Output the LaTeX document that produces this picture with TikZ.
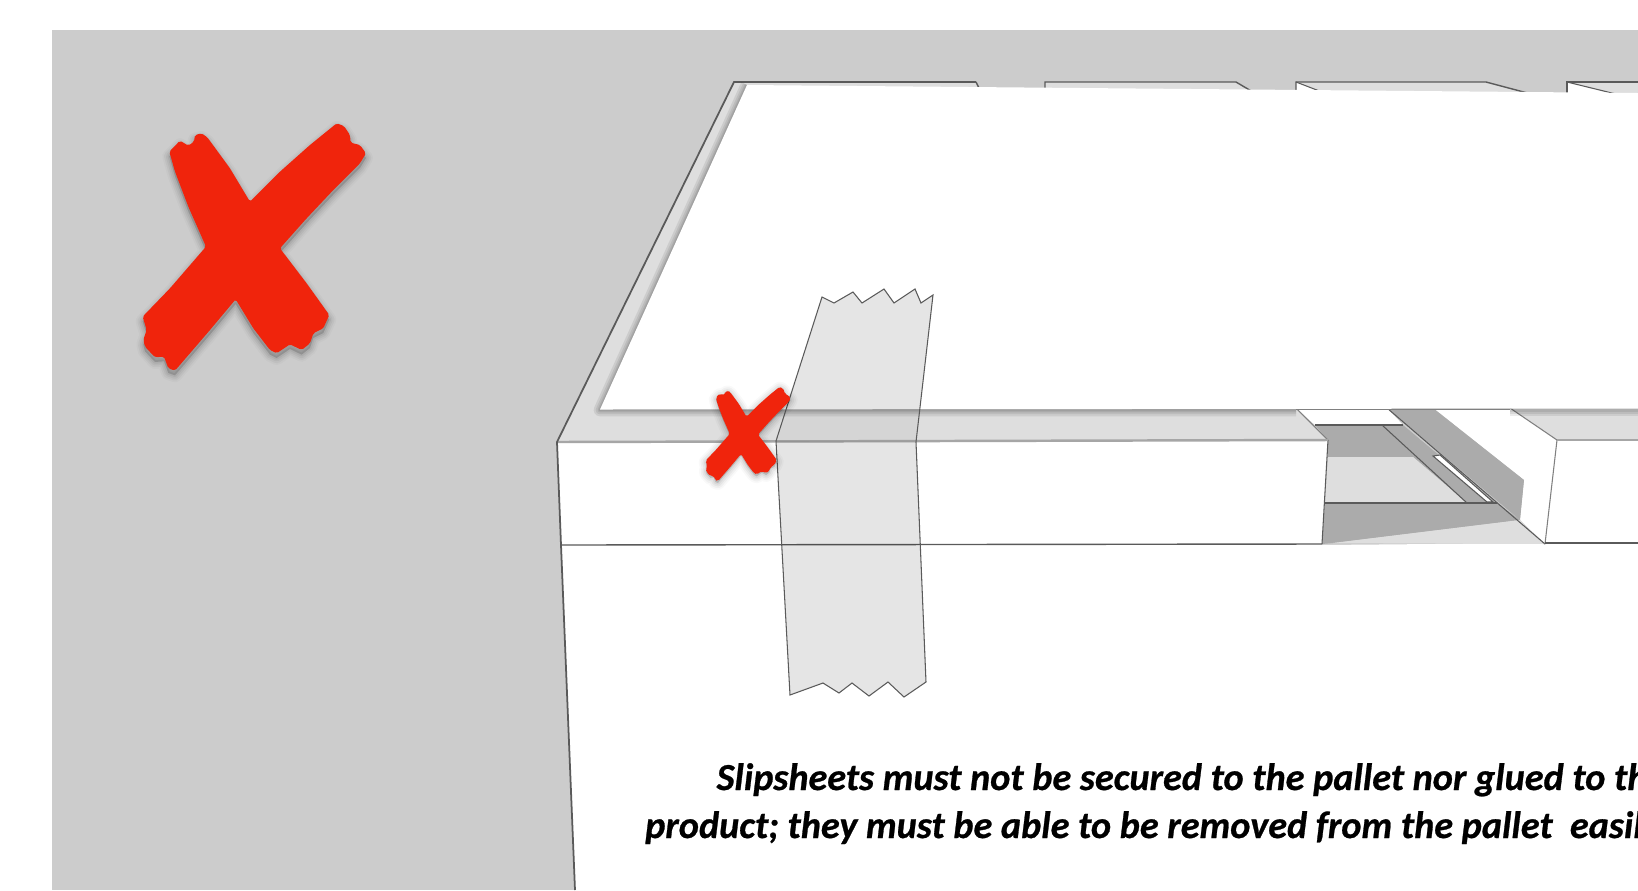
\documentclass[tikz,border=0pt]{standalone}
\usepackage{fontspec}
\setmainfont{Carlito}[BoldItalicFeatures={FakeBold=0.7}]
\definecolor{floorgray}{HTML}{CCCCCC}
\definecolor{facegray}{HTML}{DEDEDE}
\definecolor{gapgray}{HTML}{ABABAB}
\definecolor{edgegray}{HTML}{5A5A5A}
\definecolor{crossred}{HTML}{F0240C}
\newcommand{\crossoutline}{(148,155) -- (180,122) -- (205,137) -- (222,125) -- (225,105) -- (245,100) -- (262,112)
  -- (330,205) -- (390,305) -- (480,215) -- (570,135) -- (650,70) -- (672,78) -- (690,105) -- (692,128)
  -- (720,135) -- (738,160) -- (720,190) -- (640,270) -- (560,355) -- (480,445) -- (560,550) -- (628,645)
  -- (610,685) -- (580,700) -- (570,730) -- (545,750) -- (510,733) -- (470,760) -- (450,750) -- (400,685)
  -- (347,598) -- (270,690) -- (165,812) -- (145,805) -- (132,770) -- (105,772) -- (75,740) -- (70,720)
  -- (80,690) -- (68,650) -- (150,565) -- (258,440) -- (205,320) -- (165,215) -- cycle}
\tikzset{
  redcross/.pic={
    \fill[black, opacity=.025, draw, line width=4pt, line join=round] [shift={(0,14)}] \crossoutline;
    \fill[black, opacity=.035, draw, line width=3pt, line join=round] [shift={(0,14)}] \crossoutline;
    \fill[black, opacity=.045, draw, line width=2pt, line join=round] [shift={(0,14)}] \crossoutline;
    \fill[black, opacity=.055, draw, line width=1pt, line join=round] [shift={(0,14)}] \crossoutline;
    \fill[crossred, rounded corners=.5pt] \crossoutline;
  },
  sheetshadow/.style={black, opacity=.08, line join=round},
  thinedge/.style={edgegray, line width=.3pt},
  faceedge/.style={gray, line width=.3pt},
  tapepart/.style={black, opacity=.1},
  noteline/.style={anchor=base west, inner sep=0pt, font=\fontsize{10.87}{13}\selectfont\bfseries\itshape},
}

\begin{document}
\begin{tikzpicture}[x=0.01cm, y=-0.01cm]
  \useasboundingbox (0,0) rectangle (1638,890);
  \clip (0,0) rectangle (1638,890);
  \fill[white] (0,0) rectangle (1638,890);
  \fill[floorgray] (52,30) rectangle (1638,890);
  % white faces of the pallet and the box below
  \fill[white] (557,442) -- (1328,440) -- (1322,545) -- (1545,543) -- (1638,543) -- (1638,890) -- (575,890) -- cycle;
  \fill[white] (1545,544) -- (1557,440) -- (1638,440) -- (1638,544) -- cycle;
  % top faces
  \fill[facegray] (734,82) -- (976,82) -- (980,100) -- (1296,408) -- (1328,440) -- (557,442) -- cycle;
  \fill[facegray] (1045,82) -- (1236,82) -- (1258,95) -- (1045,95) -- cycle;
  \fill[facegray] (1296,82) -- (1486,82) -- (1535,95) -- (1296,95) -- cycle;
  \fill[white] (1296,82) -- (1322,92) -- (1296,95) -- cycle;
  \fill[facegray] (1567,82) -- (1638,82) -- (1638,100) -- (1567,100) -- cycle;
  \fill[white] (1567,82) -- (1620,95) -- (1567,95) -- cycle;
  \fill[facegray] (1510,408) -- (1638,408) -- (1638,440) -- (1557,440) -- cycle;
  % gap between the two blocks
  \fill[white] (1433,408) -- (1510,408) -- (1557,440) -- (1545,544) -- (1520,520) -- (1524,480) -- cycle;
  \fill[white] (1296,408) -- (1387,408) -- (1403,425) -- (1315,425) -- cycle;
  \fill[gapgray] (1315,425) -- (1403,425) -- (1545,544) -- (1497,503) -- (1467,503) -- (1413,457) -- (1328,457) -- (1328,440) -- cycle;
  \fill[facegray] (1328,457) -- (1413,457) -- (1467,503) -- (1325,503) -- cycle;
  \fill[gapgray] (1325,503) -- (1497,503) -- (1520,520) -- (1333,543) -- (1322,544) -- cycle;
  \fill[facegray] (1333,543) -- (1520,520) -- (1545,544) -- cycle;
  \fill[gapgray] (1387,408) -- (1433,408) -- (1524,480) -- (1520,520) -- cycle;
  \fill[white] (1433,456) -- (1440,455) -- (1493,502) -- (1487,502) -- cycle;
  \draw[thinedge] (1433,456) -- (1440,455) -- (1493,502) -- (1487,502) -- cycle;
  \draw[thinedge] (1382,425) -- (1467,503);
  \draw[thinedge] (1387,408) -- (1545,544);
  \draw[thinedge] (1315,425) -- (1403,425);
  \draw[edgegray, line width=.5pt] (1325,503) -- (1497,503);
  \draw[faceedge] (1296,408) -- (1328,440);
  \draw[faceedge] (1510,408) -- (1557,440) -- (1545,544);
  \draw[thinedge] (1328,440) -- (1322,544);
  % edges of the pallet
  \draw[gray!70, line width=.7pt] (557,442) -- (1328,440);
  \draw[gray!70, line width=.7pt] (1557,440) -- (1638,440);
  \draw[edgegray, line width=.4pt] (561,545) -- (1322,544);
  \draw[edgegray, line width=.3pt] (1545,543) -- (1638,543);
  \draw[edgegray, line width=.5pt] (976,82) -- (734,82) -- (557,442) -- (561,545) -- (575,890);
  \draw[edgegray, line width=.4pt] (976,82) -- (980,90);
  \draw[edgegray, line width=.4pt] (1045,90) -- (1045,82) -- (1236,82) -- (1258,95);
  \draw[edgegray, line width=.4pt] (1296,95) -- (1296,82) -- (1486,82) -- (1535,95);
  \draw[edgegray, line width=.3pt] (1296,82) -- (1322,92);
  \draw[edgegray, line width=.4pt] (1567,95) -- (1567,82) -- (1638,82);
  \draw[edgegray, line width=.3pt] (1567,82) -- (1620,95);
  % shadow and slipsheet
  \draw[sheetshadow, line width=3.6pt] (747,85) -- (600,410) -- (1296,410);
  \draw[sheetshadow, line width=2.4pt] (747,85) -- (600,410) -- (1296,410);
  \draw[sheetshadow, line width=1.4pt] (747,85) -- (600,410) -- (1296,410);
  \draw[sheetshadow, line width=.7pt] (747,85) -- (600,410) -- (1296,410);
  \draw[sheetshadow, line width=3.6pt] (1510,410) -- (1638,410);
  \draw[sheetshadow, line width=2.4pt] (1510,410) -- (1638,410);
  \draw[sheetshadow, line width=1.4pt] (1510,410) -- (1638,410);
  \draw[gray, line width=.3pt] (1296,409) -- (1510,409);
  \fill[white] (747,85) -- (1638,93) -- (1638,408.5) -- (600,409.5) -- cycle;
  % tape: upper, band, lower, outline
  \fill[tapepart] (822,297) -- (834,303) -- (853,292) -- (862,303) -- (884,289) -- (894,303) -- (915,289) -- (921,303) -- (933,295)
    -- (919.5,409.5) -- (786.5,409.5) -- cycle;
  \fill[tapepart, opacity=.04] (786.5,409.5) -- (919.5,409.5) -- (916,442) -- (776,441) -- cycle;
  \fill[tapepart] (776,441) -- (916,442) -- (926,682) -- (904,697) -- (888,682) -- (869,696) -- (852,683) -- (839,693) -- (823,683) -- (790,695) -- cycle;
  \draw[edgegray, line width=.3pt]
    (822,297) -- (834,303) -- (853,292) -- (862,303) -- (884,289) -- (894,303) -- (915,289) -- (921,303) -- (933,295)
    -- (916,442) -- (926,682) -- (904,697) -- (888,682) -- (869,696) -- (852,683) -- (839,693) -- (823,683) -- (790,695)
    -- (776,441) -- cycle;
  % crosses
  \pic at (120,100) [scale=.3333] {redcross};
  \pic at (697,378) [scale=.127] {redcross};
  % note
  \node[noteline] (noteone) at (716,790) {Slipsheets must not be secured to the pallet nor glued to the};
  \node[noteline] (notetwo) at (644.5,838) {product; they must be able to be removed from the pallet\ \ easily};
\end{tikzpicture}
\end{document}
